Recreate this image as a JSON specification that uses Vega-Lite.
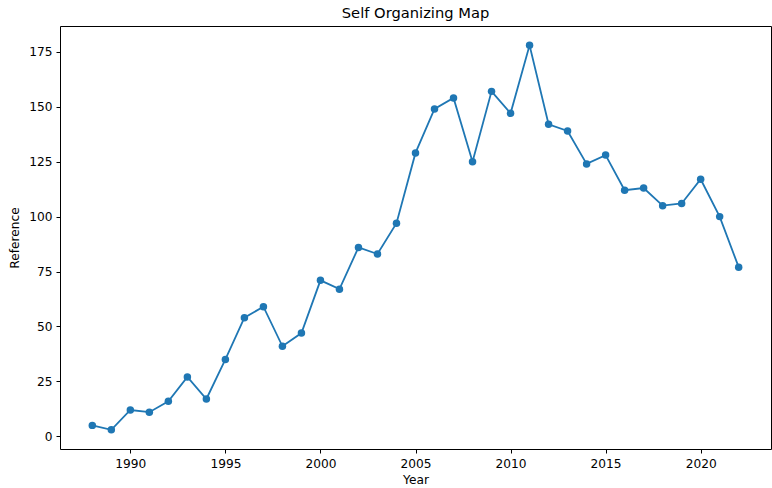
{
  "$schema": "https://vega.github.io/schema/vega-lite/v6.json",
  "autosize": {"type": "none"},
  "padding": {"left": 60, "top": 26, "right": 1, "bottom": 39},
  "width": 711,
  "height": 423,
  "background": "white",
  "title": {"text": "Self Organizing Map", "fontSize": 14.7, "font": "DejaVu Sans", "fontWeight": "normal", "color": "black", "offset": 5},
  "config": {
    "view": {"stroke": "black", "strokeWidth": 1},
    "axis": {"grid": false, "domain": false, "tickColor": "black", "tickSize": 4, "labelPadding": 4, "labelColor": "black", "labelFont": "DejaVu Sans", "labelFontSize": 12.2, "titleFont": "DejaVu Sans", "titleFontSize": 12.2, "titleFontWeight": "normal", "titleColor": "black"}
  },
  "data": {"values": [
    {"Year": 1988, "Reference": 5},
    {"Year": 1989, "Reference": 3},
    {"Year": 1990, "Reference": 12},
    {"Year": 1991, "Reference": 11},
    {"Year": 1992, "Reference": 16},
    {"Year": 1993, "Reference": 27},
    {"Year": 1994, "Reference": 17},
    {"Year": 1995, "Reference": 35},
    {"Year": 1996, "Reference": 54},
    {"Year": 1997, "Reference": 59},
    {"Year": 1998, "Reference": 41},
    {"Year": 1999, "Reference": 47},
    {"Year": 2000, "Reference": 71},
    {"Year": 2001, "Reference": 67},
    {"Year": 2002, "Reference": 86},
    {"Year": 2003, "Reference": 83},
    {"Year": 2004, "Reference": 97},
    {"Year": 2005, "Reference": 129},
    {"Year": 2006, "Reference": 149},
    {"Year": 2007, "Reference": 154},
    {"Year": 2008, "Reference": 125},
    {"Year": 2009, "Reference": 157},
    {"Year": 2010, "Reference": 147},
    {"Year": 2011, "Reference": 178},
    {"Year": 2012, "Reference": 142},
    {"Year": 2013, "Reference": 139},
    {"Year": 2014, "Reference": 124},
    {"Year": 2015, "Reference": 128},
    {"Year": 2016, "Reference": 112},
    {"Year": 2017, "Reference": 113},
    {"Year": 2018, "Reference": 105},
    {"Year": 2019, "Reference": 106},
    {"Year": 2020, "Reference": 117},
    {"Year": 2021, "Reference": 100},
    {"Year": 2022, "Reference": 77}
  ]},
  "encoding": {
    "x": {"field": "Year", "type": "quantitative", "scale": {"domain": [1986.3, 2023.7], "nice": false, "zero": false},
          "axis": {"values": [1990, 1995, 2000, 2005, 2010, 2015, 2020], "format": "d", "title": "Year", "titlePadding": 4}},
    "y": {"field": "Reference", "type": "quantitative", "scale": {"domain": [-5.75, 186.75], "nice": false, "zero": false},
          "axis": {"values": [0, 25, 50, 75, 100, 125, 150, 175], "title": "Reference", "titlePadding": 7}}
  },
  "layer": [
    {"mark": {"type": "line", "color": "#1f77b4", "strokeWidth": 1.8}},
    {"mark": {"type": "point", "filled": true, "color": "#1f77b4", "size": 56, "opacity": 1}}
  ]
}
